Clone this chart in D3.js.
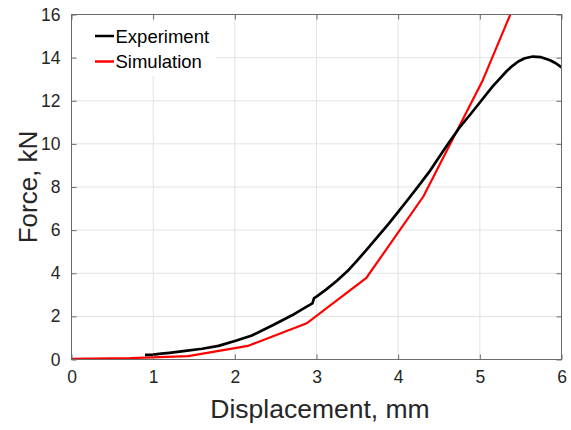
<!DOCTYPE html>
<html>
<head>
<meta charset="utf-8">
<script src="https://cdn.jsdelivr.net/npm/d3@7"></script>
<style>
  body { margin: 0; background: #fff; }
  text { font-family: "Liberation Sans", Arial, sans-serif; fill: #262626; }
</style>
</head>
<body>
<svg id="chart" width="571" height="430"></svg>
<script>
// experiment curve (displacement mm, force kN)
const expX = [0.9, 1.0, 1.1, 1.2, 1.37, 1.6, 1.8, 2.02, 2.2, 2.47, 2.7, 2.88, 2.95, 2.97, 3.0, 3.12, 3.25, 3.38, 3.5, 3.62, 3.75, 3.88, 4.0, 4.12, 4.25, 4.38, 4.5, 4.62, 4.75, 4.88, 5.0, 5.08, 5.16, 5.25, 5.33, 5.4, 5.47, 5.55, 5.65, 5.75, 5.86, 5.93, 6.0];
const expY = [0.21, 0.23, 0.27, 0.31, 0.39, 0.5, 0.63, 0.88, 1.1, 1.6, 2.05, 2.45, 2.6, 2.85, 2.92, 3.25, 3.65, 4.1, 4.6, 5.12, 5.7, 6.28, 6.85, 7.42, 8.05, 8.7, 9.38, 10.05, 10.75, 11.35, 11.92, 12.3, 12.68, 13.05, 13.38, 13.62, 13.82, 13.97, 14.05, 14.02, 13.88, 13.74, 13.55];

// simulation curve
const simX = [0, 0.72, 1.43, 2.16, 2.88, 3.61, 4.31, 5.03, 5.75];
const simY = [0.03, 0.06, 0.16, 0.63, 1.68, 3.78, 7.57, 12.9, 19.4];

const xTicks = [0, 1, 2, 3, 4, 5, 6];
const yTicks = [0, 2, 4, 6, 8, 10, 12, 14, 16];
const legendNames = ["Experiment", "Simulation"];
const legendColors = ["#000000", "#ff0000"];

const svg = d3.select("#chart");
const mLeft = 71.5, mRight = 561.5, mTop = 14.5, mBottom = 359.5;

const x = d3.scaleLinear().domain([0, 6]).range([mLeft, mRight]);
const y = d3.scaleLinear().domain([0, 16]).range([mBottom, mTop]);

// grid
svg.append("g").selectAll("line").data(xTicks).enter().append("line")
  .attr("x1", d => x(d)).attr("x2", d => x(d))
  .attr("y1", mTop).attr("y2", mBottom)
  .attr("stroke", "#e3e3e3").attr("stroke-width", 1);
svg.append("g").selectAll("line").data(yTicks).enter().append("line")
  .attr("x1", mLeft).attr("x2", mRight)
  .attr("y1", d => y(d)).attr("y2", d => y(d))
  .attr("stroke", "#e3e3e3").attr("stroke-width", 1);

// clip to the axes box
svg.append("clipPath").attr("id", "plotclip")
  .append("rect").attr("x", mLeft).attr("y", mTop)
  .attr("width", mRight - mLeft).attr("height", mBottom - mTop);

const line = d3.line().x(d => x(d[0])).y(d => y(d[1]));

svg.append("path")
  .datum(simX.map((v, i) => [v, simY[i]]))
  .attr("d", line)
  .attr("clip-path", "url(#plotclip)")
  .attr("fill", "none").attr("stroke", "#ff0000").attr("stroke-width", 2.2);

svg.append("path")
  .datum(expX.map((v, i) => [v, expY[i]]))
  .attr("d", line)
  .attr("clip-path", "url(#plotclip)")
  .attr("fill", "none").attr("stroke", "#000000").attr("stroke-width", 2.7)
  .attr("stroke-linejoin", "round");

// legend, white box with no border
const legend = svg.append("g");
legend.append("rect")
  .attr("x", 76).attr("y", 22).attr("width", 140).attr("height", 54)
  .attr("fill", "#fff");
legend.selectAll("g").data(legendNames).enter().append("g")
  .each(function(d, i) {
    const g = d3.select(this);
    const ly = 36 + i * 25.5;
    g.append("line")
      .attr("x1", 95).attr("x2", 114).attr("y1", ly).attr("y2", ly)
      .attr("stroke", legendColors[i]).attr("stroke-width", 2.5);
    g.append("text")
      .attr("x", 115.5).attr("y", ly + 6.5)
      .style("font-size", "18.5px")
      .style("fill", "#000")
      .text(d);
  });

// axes box with inward ticks
const axisColor = "#6b6b6b";
svg.append("rect")
  .attr("x", mLeft).attr("y", mTop).attr("width", mRight - mLeft).attr("height", mBottom - mTop)
  .attr("fill", "none").attr("stroke", axisColor).attr("stroke-width", 1);

const xAxis = d3.axisBottom(x).tickValues(xTicks).tickSize(-5).tickPadding(11).tickFormat(d3.format("d"));
svg.append("g").attr("transform", `translate(0,${mBottom})`).call(xAxis);
svg.append("g").attr("transform", `translate(0,${mTop})`)
  .call(d3.axisTop(x).tickValues(xTicks).tickSize(-5).tickFormat(""));

const yAxis = d3.axisLeft(y).tickValues(yTicks).tickSize(-5).tickPadding(11).tickFormat(d3.format("d"));
svg.append("g").attr("transform", `translate(${mLeft},0)`).call(yAxis);
svg.append("g").attr("transform", `translate(${mRight},0)`)
  .call(d3.axisRight(y).tickValues(yTicks).tickSize(-5).tickFormat(""));

svg.selectAll(".domain").remove();
svg.selectAll(".tick line").attr("stroke", axisColor);
svg.selectAll(".tick text")
  .style("font-size", "17.5px")
  .style("font-family", "'Liberation Sans', Arial, sans-serif")
  .attr("fill", "#262626");

// axis titles
svg.append("text")
  .attr("x", 320).attr("y", 418)
  .attr("text-anchor", "middle")
  .style("font-size", "26.5px")
  .text("Displacement, mm");

svg.append("text")
  .attr("transform", "translate(37,187) rotate(-90)")
  .attr("text-anchor", "middle")
  .style("font-size", "26px")
  .text("Force, kN");
</script>
</body>
</html>
